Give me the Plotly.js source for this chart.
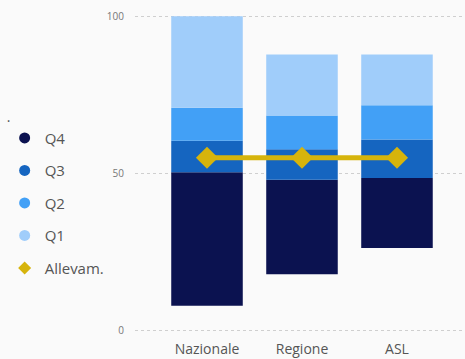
<!DOCTYPE html>
<html>
<head>
<meta charset="utf-8">
<script src="https://cdn.plot.ly/plotly-3.0.1.min.js"></script>
<style>html,body{margin:0;padding:0;background:#fafafa;}#chart{width:465px;height:359px;}</style>
</head>
<body>
<div id="chart"></div>
<script>
// Data
var categories = ['Nazionale', 'Regione', 'ASL'];
var minVal  = [8.0, 18.0, 26.3];
var q4Top   = [50.4, 48.0, 48.6];
var q3Top   = [60.4, 57.7, 60.8];
var q2Top   = [70.9, 68.4, 71.7];
var q1Top   = [100.0, 87.8, 87.8];
var allevam = [55.0, 55.0, 55.0];
var seriesNames = ['Q4', 'Q3', 'Q2', 'Q1'];
var yTicks = [0, 50, 100];

var colors = {Q4: '#0b1250', Q3: '#1565c0', Q2: '#42a0f6', Q1: '#a0cdfa', Allevam: '#d6b40c'};

function diff(a, b) { return a.map(function (v, i) { return v - b[i]; }); }

var bases = [minVal, q4Top, q3Top, q2Top];
var tops  = [q4Top, q3Top, q2Top, q1Top];

var traces = [];
seriesNames.forEach(function (name, k) {
  traces.push({
    type: 'bar', x: categories, base: bases[k], y: diff(tops[k], bases[k]),
    name: name, legendgroup: name, showlegend: false,
    marker: {color: colors[name], line: {width: 0}},
    hoverinfo: 'x+name'
  });
});
traces.push({
  type: 'scatter', mode: 'lines+markers', x: categories, y: allevam,
  name: 'Allevam.', legendgroup: 'Allevam', showlegend: false,
  line: {color: colors.Allevam, width: 5},
  marker: {symbol: 'diamond', size: 17, color: colors.Allevam}
});
// legend entries (circle / diamond symbols as in the reference)
seriesNames.forEach(function (name) {
  traces.push({
    type: 'scatter', mode: 'markers', x: [null], y: [null], name: name,
    legendgroup: name, showlegend: true, hoverinfo: 'skip',
    marker: {symbol: 'circle', size: 11, color: colors[name]}
  });
});
traces.push({
  type: 'scatter', mode: 'markers', x: [null], y: [null], name: 'Allevam.',
  legendgroup: 'Allevam', showlegend: true, hoverinfo: 'skip',
  marker: {symbol: 'diamond', size: 10, color: colors.Allevam}
});

var layout = {
  width: 465, height: 359,
  margin: {l: 135, r: 0, t: 13, b: 25, pad: 0},
  paper_bgcolor: '#fafafa', plot_bgcolor: '#fafafa',
  font: {family: 'Open Sans, sans-serif', color: '#555555'},
  barmode: 'overlay', bargap: 0.247,
  showlegend: true,
  legend: {
    x: -0.395, xanchor: 'left', y: 0.718, yanchor: 'top',
    bgcolor: 'rgba(0,0,0,0)', traceorder: 'grouped', tracegroupgap: 10,
    font: {size: 15, color: '#555555'},
    title: {text: '.', font: {size: 14, color: '#555555'}},
    itemclick: false
  },
  xaxis: {
    type: 'category', range: [-0.758, 2.716], showgrid: false, zeroline: false,
    showline: false, ticks: '', tickfont: {size: 14, color: '#555555'},
    ticklabelstandoff: 5, fixedrange: true
  },
  yaxis: {
    range: [-1, 101], tickvals: yTicks, ticktext: yTicks.map(String),
    showgrid: true, gridcolor: '#cfcfcf', griddash: 'dot', gridwidth: 1,
    zeroline: false, showline: false, ticks: '',
    tickfont: {size: 10, color: '#777777'}, ticklabelstandoff: 10, fixedrange: true
  }
};

Plotly.newPlot('chart', traces, layout, {displayModeBar: false, staticPlot: true});
</script>
</body>
</html>
